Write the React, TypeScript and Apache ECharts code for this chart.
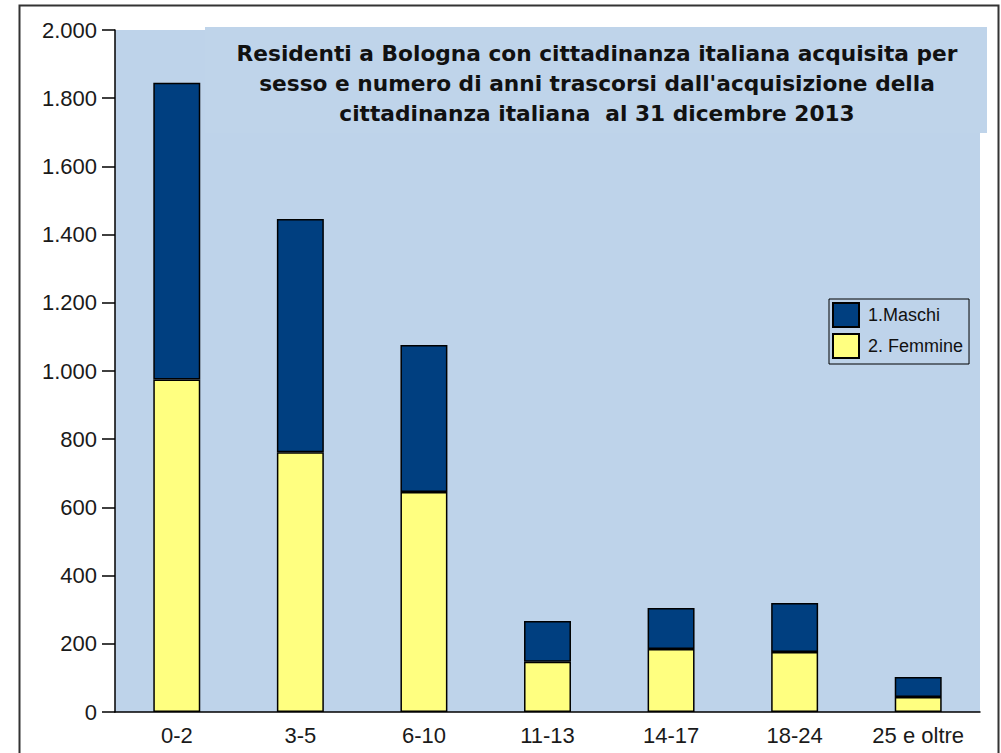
import React, { useEffect, useRef } from "react";
import * as echarts from "echarts";

const categories = ["0-2", "3-5", "6-10", "11-13", "14-17", "18-24", "25 e oltre"];
const femmine = [975, 762, 645, 147, 185, 176, 44];
const maschi = [870, 684, 431, 120, 120, 144, 59];
const seriesNames = ["1.Maschi", "2. Femmine"];
const titleText =
  "Residenti a Bologna con cittadinanza italiana acquisita per\nsesso e numero di anni trascorsi dall'acquisizione della\ncittadinanza italiana  al 31 dicembre 2013";

const fmt = (v: number) => String(v).replace(/\B(?=(\d{3})+(?!\d))/g, ".");

export default function App() {
  const ref = useRef<HTMLDivElement>(null);
  useEffect(() => {
    if (!ref.current) return;
    const chart = echarts.init(ref.current, undefined, { renderer: "svg" });
    const font = "'Liberation Sans', Arial, sans-serif";
    chart.setOption({
      animation: false,
      backgroundColor: "#ffffff",
      grid: {
        left: 115,
        right: 21,
        top: 30,
        bottom: 41,
        show: true,
        backgroundColor: "#BED3EA",
        borderWidth: 0,
      },
      graphic: [
        {
          type: "rect",
          z: 0,
          shape: { x: 19.5, y: 5.5, width: 979, height: 800 },
          style: { fill: "transparent", stroke: "#333", lineWidth: 2 },
        },
        {
          type: "rect",
          z: 1,
          shape: { x: 205, y: 27, width: 782, height: 106 },
          style: { fill: "#BFD4EA" },
        },
        {
          type: "text",
          z: 5,
          x: 597,
          y: 38,
          style: {
            text: titleText,
            align: "center",
            verticalAlign: "top",
            fontFamily: "'DejaVu Sans', Verdana, sans-serif",
            fontWeight: "bold",
            fontSize: 21.7,
            lineHeight: 30,
            fill: "#111",
          },
        },
      ],
      legend: {
        data: seriesNames,
        orient: "vertical",
        left: 829,
        top: 299,
        icon: "rect",
        itemWidth: 26,
        itemHeight: 24,
        itemGap: 5,
        padding: [3, 6, 5, 3],
        borderColor: "#000",
        borderWidth: 1,
        backgroundColor: "transparent",
        textStyle: { fontFamily: font, fontSize: 18, color: "#111", padding: [0, 0, 0, 4] },
        z: 6,
      },
      xAxis: {
        type: "category",
        data: categories,
        axisLine: { lineStyle: { color: "#000", width: 1.5 } },
        axisTick: { length: 8, lineStyle: { color: "#000", width: 1.5 } },
        axisLabel: { fontFamily: font, fontSize: 22, color: "#1a1a1a", margin: 12, interval: 0 },
        splitLine: { show: false },
      },
      yAxis: {
        type: "value",
        min: 0,
        max: 2000,
        interval: 200,
        axisLine: { show: true, lineStyle: { color: "#000", width: 1.5 } },
        axisTick: { show: true, length: 13, lineStyle: { color: "#000", width: 1.5 } },
        axisLabel: {
          fontFamily: font,
          fontSize: 22,
          color: "#1a1a1a",
          margin: 18,
          formatter: (v: number) => fmt(v),
        },
        splitLine: { show: false },
      },
      series: [
        {
          name: seriesNames[1],
          type: "bar",
          stack: "tot",
          data: femmine,
          barWidth: "38%",
          itemStyle: { color: "#FFFF80", borderColor: "#000", borderWidth: 1.5 },
        },
        {
          name: seriesNames[0],
          type: "bar",
          stack: "tot",
          data: maschi,
          barWidth: "38%",
          itemStyle: { color: "#003F80", borderColor: "#000", borderWidth: 1.5 },
        },
      ],
    });
    return () => chart.dispose();
  }, []);
  return (
    <div
      ref={ref}
      style={{ position: "fixed", left: 0, top: 0, width: 1001, height: 753 }}
    />
  );
}
